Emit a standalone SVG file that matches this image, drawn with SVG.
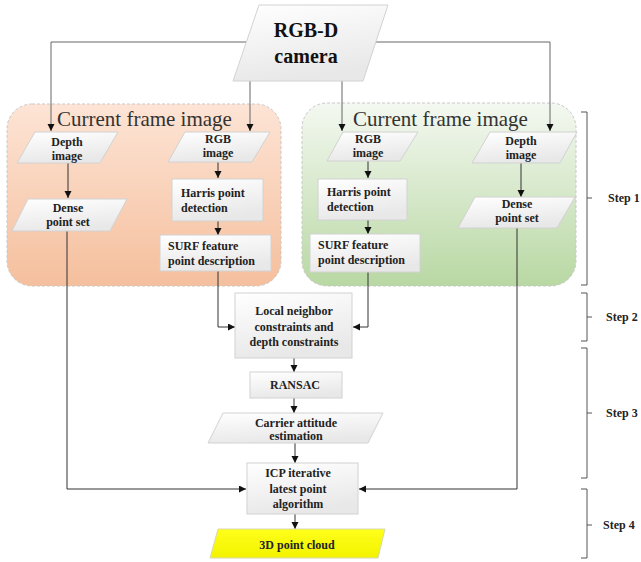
<svg xmlns="http://www.w3.org/2000/svg" width="641" height="562" viewBox="0 0 641 562">
<defs>
<linearGradient id="gPeach" x1="0" y1="0" x2="0" y2="1"><stop offset="0" stop-color="#fde4d5"/><stop offset="1" stop-color="#f5bf9d"/></linearGradient>
<linearGradient id="gGreen" x1="0" y1="0" x2="0" y2="1"><stop offset="0" stop-color="#f4f8f1"/><stop offset="1" stop-color="#b8d8a3"/></linearGradient>
<linearGradient id="gNode" x1="0" y1="0" x2="0.3" y2="1"><stop offset="0" stop-color="#ffffff"/><stop offset="1" stop-color="#e8e8e8"/></linearGradient>
<linearGradient id="gYellow" x1="0" y1="0" x2="0" y2="1"><stop offset="0" stop-color="#ffff1a"/><stop offset="1" stop-color="#f2f200"/></linearGradient>
<marker id="arr" markerUnits="userSpaceOnUse" markerWidth="8" markerHeight="8" refX="7" refY="3.5" orient="auto"><path d="M0,0 L7,3.5 L0,7 z" fill="#111"/></marker>
<style>
.panel{stroke:#c8c8c8;stroke-width:1;stroke-dasharray:3 2}
.node{fill:url(#gNode);stroke:#d2d2d2;stroke-width:1}
.t{font-family:"Liberation Serif","Times New Roman",serif;font-weight:bold;font-size:12px;fill:#222}
.c{text-anchor:middle}
.title{font-family:"Liberation Serif","Times New Roman",serif;font-size:21px;fill:#333}
.cam{font-family:"Liberation Serif","Times New Roman",serif;font-weight:bold;font-size:20px;fill:#111;text-anchor:middle}
.ln{fill:none;stroke:#333;stroke-width:1}
.lg{fill:none;stroke:#666;stroke-width:1}
.br{fill:none;stroke:#555;stroke-width:1}
</style>
</defs>
<rect width="641" height="562" fill="#ffffff"/>

<g id="panel-left">
<rect class="panel" x="7" y="104" width="274" height="182" rx="25" fill="url(#gPeach)"/>
<text class="title" x="57" y="126">Current frame image</text>
</g>
<g id="panel-right">
<rect class="panel" x="302" y="103" width="274" height="183" rx="25" fill="url(#gGreen)"/>
<text class="title" x="353" y="126">Current frame image</text>
</g>

<g id="connectors">
<polyline class="lg" points="246,42 51,42 51,131" marker-end="url(#arr)"/>
<polyline class="lg" points="376,42 550,42 550,131" marker-end="url(#arr)"/>
<line class="lg" x1="250" y1="81" x2="250" y2="131" marker-end="url(#arr)"/>
<line class="lg" x1="342" y1="81" x2="342" y2="131" marker-end="url(#arr)"/>
<line class="ln" x1="68" y1="163" x2="68" y2="198" marker-end="url(#arr)"/>
<line class="ln" x1="218" y1="162" x2="218" y2="178" marker-end="url(#arr)"/>
<line class="ln" x1="218" y1="221" x2="218" y2="235" marker-end="url(#arr)"/>
<line class="ln" x1="368" y1="161" x2="368" y2="178" marker-end="url(#arr)"/>
<line class="ln" x1="368" y1="220" x2="368" y2="234" marker-end="url(#arr)"/>
<line class="ln" x1="521" y1="163" x2="521" y2="197" marker-end="url(#arr)"/>
<polyline class="ln" points="218,271 218,327 235,327" marker-end="url(#arr)"/>
<polyline class="ln" points="368,272 368,327 353,327" marker-end="url(#arr)"/>
<line class="ln" x1="294" y1="358" x2="294" y2="372" marker-end="url(#arr)"/>
<line class="ln" x1="294" y1="398" x2="294" y2="413" marker-end="url(#arr)"/>
<line class="ln" x1="295" y1="443" x2="295" y2="463" marker-end="url(#arr)"/>
<line class="ln" x1="295" y1="514" x2="295" y2="529" marker-end="url(#arr)"/>
<polyline class="ln" points="67,231 67,489 246,489" marker-end="url(#arr)"/>
<polyline class="ln" points="517,228 517,489 359,489" marker-end="url(#arr)"/>
</g>

<g id="camera">
<polygon class="node" points="259,5 388,5 363,81 233,81"/>
<text class="cam" x="306" y="37">RGB-D</text>
<text class="cam" x="306" y="63">camera</text>
</g>

<g id="depth-left">
<polygon class="node" points="35,132 118,132 100,163 17,163"/>
<text class="t c" x="67" y="146">Depth</text>
<text class="t c" x="67" y="160">image</text>
</g>
<g id="rgb-left">
<polygon class="node" points="185,132 270,132 252,162 168,162"/>
<text class="t c" x="218" y="143">RGB</text>
<text class="t c" x="218" y="157">image</text>
</g>
<g id="dense-left">
<polygon class="node" points="28,199 127,199 110,231 12,231"/>
<text class="t c" x="68" y="212">Dense</text>
<text class="t c" x="68" y="226">point set</text>
</g>
<g id="harris-left">
<rect class="node" x="172" y="179" width="91" height="42"/>
<text class="t" x="181" y="197">Harris point</text>
<text class="t" x="181" y="212">detection</text>
</g>
<g id="surf-left">
<rect class="node" x="160" y="235" width="111" height="36"/>
<text class="t" x="168" y="250">SURF feature</text>
<text class="t" x="168" y="265">point description</text>
</g>

<g id="rgb-right">
<polygon class="node" points="343,132 418,132 400,161 327,161"/>
<text class="t c" x="368" y="143">RGB</text>
<text class="t c" x="368" y="157">image</text>
</g>
<g id="harris-right">
<rect class="node" x="318" y="179" width="89" height="41"/>
<text class="t" x="327" y="196">Harris point</text>
<text class="t" x="327" y="211">detection</text>
</g>
<g id="surf-right">
<rect class="node" x="310" y="234" width="110" height="38"/>
<text class="t" x="318" y="249">SURF feature</text>
<text class="t" x="318" y="264">point description</text>
</g>
<g id="depth-right">
<polygon class="node" points="490,132 577,132 560,163 472,163"/>
<text class="t c" x="521" y="145">Depth</text>
<text class="t c" x="521" y="159">image</text>
</g>
<g id="dense-right">
<polygon class="node" points="475,197 575,197 557,228 458,228"/>
<text class="t c" x="517" y="208">Dense</text>
<text class="t c" x="517" y="222">point set</text>
</g>

<g id="constraints">
<rect class="node" x="235" y="293" width="117" height="65"/>
<text class="t c" x="294" y="315">Local neighbor</text>
<text class="t c" x="294" y="331">constraints and</text>
<text class="t c" x="294" y="346">depth constraints</text>
</g>
<g id="ransac">
<rect class="node" x="250" y="372" width="92" height="26"/>
<text class="t c" x="295" y="389">RANSAC</text>
</g>
<g id="carrier">
<polygon class="node" points="223,413 383,413 368,443 208,443"/>
<text class="t c" x="296" y="427">Carrier attitude</text>
<text class="t c" x="296" y="440">estimation</text>
</g>
<g id="icp">
<rect class="node" x="247" y="463" width="111" height="51"/>
<text class="t c" x="298" y="477">ICP iterative</text>
<text class="t c" x="298" y="493">latest point</text>
<text class="t c" x="298" y="508">algorithm</text>
</g>
<g id="cloud">
<polygon points="218,529 385,529 378,558 210,558" fill="url(#gYellow)" stroke="#d8d8b0" stroke-width="1"/>
<text class="t c" x="297" y="549">3D point cloud</text>
</g>

<g id="steps">
<polyline class="br" points="581,112 587,112 587,285 581,285"/>
<line class="br" x1="587" y1="198" x2="592" y2="198"/>
<text class="t" x="608" y="202">Step 1</text>
<polyline class="br" points="581,293 587,293 587,341 581,341"/>
<line class="br" x1="587" y1="317" x2="592" y2="317"/>
<text class="t" x="606" y="321">Step 2</text>
<polyline class="br" points="581,348 587,348 587,478 581,478"/>
<line class="br" x1="587" y1="413" x2="592" y2="413"/>
<text class="t" x="606" y="417">Step 3</text>
<polyline class="br" points="581,489 587,489 587,558 581,558"/>
<line class="br" x1="587" y1="525" x2="592" y2="525"/>
<text class="t" x="603" y="529">Step 4</text>
</g>
</svg>
